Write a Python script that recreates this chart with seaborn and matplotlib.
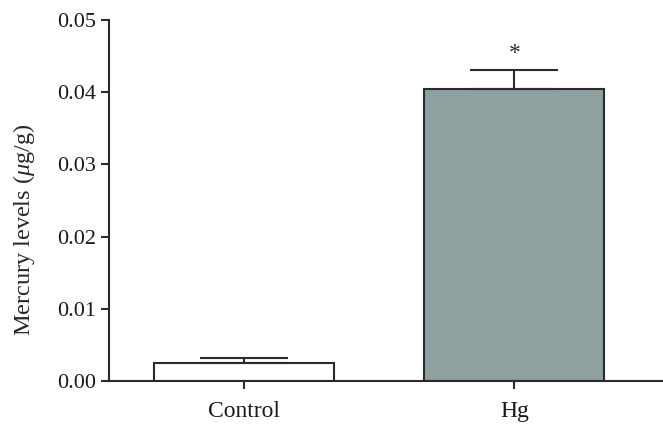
import numpy as np
import pandas as pd
import matplotlib
matplotlib.use("Agg")
import matplotlib.pyplot as plt
import seaborn as sns

# data
groups = ["Control", "Hg"]
means = [0.0025, 0.0404]
sem = [0.0007, 0.0027]
bar_colors = ["#ffffff", "#8ba3a3"]

sns.set_style("ticks")
plt.rcParams["font.family"] = ["Liberation Serif", "DejaVu Serif"]
plt.rcParams["mathtext.fontset"] = "custom"
plt.rcParams["mathtext.it"] = "Liberation Serif:italic"
plt.rcParams["mathtext.rm"] = "Liberation Serif"

df = pd.DataFrame({"group": groups, "mean": means})

fig = plt.figure(figsize=(6.63, 4.36), dpi=100)
ax = fig.add_axes([0.1644, 0.126, 0.8356, 0.828])

sns.barplot(data=df, x="group", y="mean", hue="group", palette=bar_colors,
            width=0.667, edgecolor="#2b2b2b", linewidth=1.5, legend=False,
            errorbar=None, ax=ax)

# one-sided (upward) error bars
ax.errorbar(np.arange(len(groups)), means, yerr=[np.zeros(len(sem)), sem],
            fmt="none", ecolor="#2b2b2b", elinewidth=1.5, capsize=32,
            capthick=1.5)

ax.text(1.0, means[1] + sem[1] + 0.0008, "*", ha="center", va="bottom",
        fontsize=17, color="#2b2b2b")

ax.set_xlim(-0.5, 1.55)
ax.set_ylim(0, 0.05)
ax.set_yticks([0, 0.01, 0.02, 0.03, 0.04, 0.05])
ax.set_yticklabels(["0.00", "0.01", "0.02", "0.03", "0.04", "0.05"])
ax.set_xlabel("")
ax.set_ylabel(r"Mercury levels ($\mu$g/g)", fontsize=17.5)
ax.yaxis.set_label_coords(-0.13, 0.42)
ax.tick_params(axis="y", labelsize=16)
ax.tick_params(axis="x", labelsize=17, pad=8)
ax.tick_params(axis="both", length=6, width=1.5,
               color="#2b2b2b", labelcolor="#1a1a1a", direction="out")

sns.despine(ax=ax, top=True, right=True)
for s in ["left", "bottom"]:
    ax.spines[s].set_linewidth(1.5)
    ax.spines[s].set_color("#2b2b2b")

fig.savefig("out.png", dpi=100)
